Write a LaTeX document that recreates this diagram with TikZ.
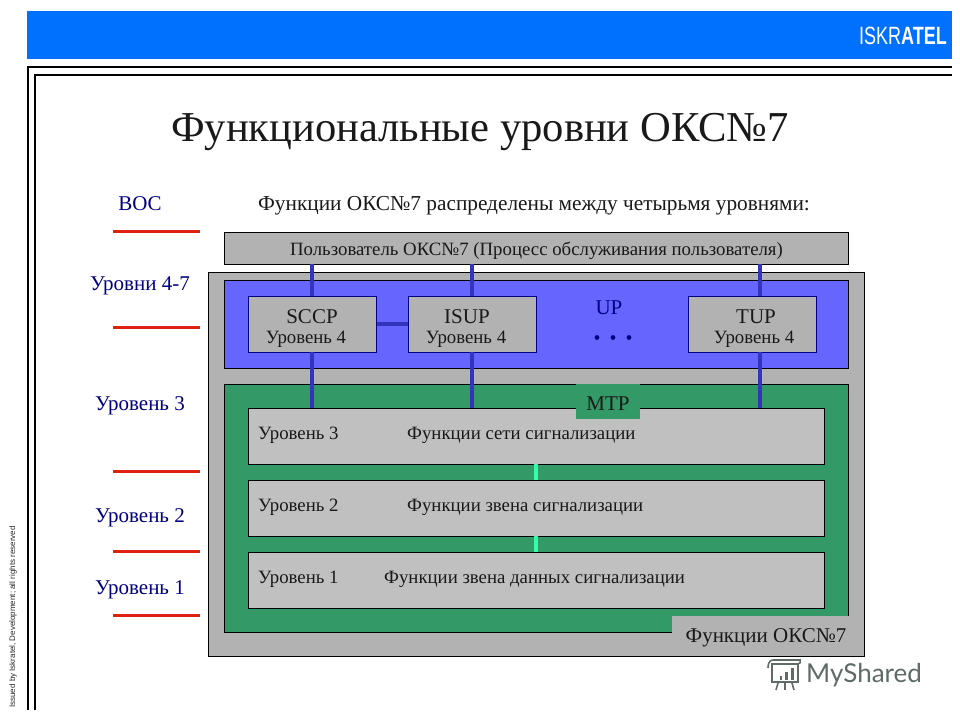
\documentclass[tikz,border=0pt]{standalone}
\usepackage{fontspec}
\setmainfont{Liberation Serif}
\newfontfamily\arialf{Liberation Sans}
\newfontfamily\latof{Lato}
\definecolor{barblue}{HTML}{0070FF}
\definecolor{panelgray}{HTML}{B2B2B2}
\definecolor{upblue}{HTML}{6666FF}
\definecolor{mtpgreen}{HTML}{339966}
\definecolor{layergray}{HTML}{C0C0C0}
\definecolor{linkblue}{HTML}{3333BB}
\definecolor{linkgreen}{HTML}{33FFAA}
\definecolor{redline}{HTML}{DD2211}
\definecolor{labelblue}{HTML}{000080}
\definecolor{wm}{HTML}{5F6B68}
\tikzset{
  x=1pt,y=-1pt,
  fs/.style={font=\fontsize{#1}{#1}\selectfont},
  box/.style={draw=black,line width=1pt,inner sep=0,outer sep=0},
  userbox/.style={box,fill=panelgray,minimum width=624.5pt,minimum height=32pt,anchor=north west},
  protobox/.style={box,draw=labelblue,fill=panelgray,minimum width=128.5pt,minimum height=56pt,anchor=north west},
  layerbox/.style={box,fill=layergray,minimum width=576.5pt,minimum height=56pt,anchor=north west},
  link/.style={draw=linkblue,line width=3.5pt},
  glink/.style={draw=linkgreen,line width=3.5pt},
  rule/.style={draw=redline,line width=3pt},
  lvl/.style={fs=21,text=labelblue,inner sep=0},
  txt/.style={fs=18.8,inner sep=0,text=black!90},
  proto/.style={fs=21,inner sep=0,text=black!90},
  frame/.style={draw=black,line width=2pt},
}
\begin{document}
\begin{tikzpicture}
\useasboundingbox (0,0) rectangle (960,720);
\fill[white] (0,0) rectangle (960,720);
% header
\fill[barblue] (27,11) rectangle (952,59);
\node[fs=25,text=white,inner sep=0,anchor=east] (logo) at (947,35.5)
  {\arialf\scalebox{0.72}[1.0]{ISKR\textbf{ATEL}}};
\draw[frame] (952,67) -- (28,67) -- (28,710);
\draw[frame] (952,75) -- (35,75) -- (35,710);
\node[fs=8,rotate=90,inner sep=0,text=black!85] (issued) at (13,617)
  {\arialf Issued by Iskratel, Development; all rights reserved};
% title
\node[fs=42.6,inner sep=0,text=black!90] (title) at (480,132) {Функциональные уровни ОКС№7};
\node[lvl] (boc) at (140,204) {ВОС};
\node[fs=21.3,inner sep=0,text=black!90] (sub) at (534,205.5) {Функции ОКС№7 распределены между четырьмя уровнями:};
% panels
\node[box,fill=panelgray,minimum width=656.5pt,minimum height=384pt,anchor=north west] (outer) at (208,272) {};
\node[box,fill=upblue,minimum width=624.5pt,minimum height=88pt,anchor=north west] (up) at (224,280) {};
\node[box,fill=mtpgreen,minimum width=624.5pt,minimum height=248pt,anchor=north west] (mtp) at (224,384) {};
\node[userbox] (user) at (224,232) {};
\node[txt] at (536.5,251) {Пользователь ОКС№7 (Процесс обслуживания пользователя)};
% boxes
\node[protobox] (sccp) at (248,296) {};
\node[protobox] (isup) at (408,296) {};
\node[protobox] (tup) at (688,296) {};
\node[layerbox] (l3) at (248,408) {};
\node[layerbox] (l2) at (248,480) {};
\node[layerbox] (l1) at (248,552) {};
% connectors
\path[link] (user.south -| 312,0) -- (sccp.north -| 312,0);
\path[link] (user.south -| 472,0) -- (isup.north -| 472,0);
\path[link] (user.south -| 760,0) -- (tup.north -| 760,0);
\path[link] (sccp.south -| 312,0) -- (l3.north -| 312,0);
\path[link] (isup.south -| 472,0) -- (l3.north -| 472,0);
\path[link] (tup.south -| 760,0) -- (l3.north -| 760,0);
\path[link] (sccp.east) -- (isup.west);
\path[glink] (l3.south -| 536,0) -- (l2.north -| 536,0);
\path[glink] (l2.south -| 536,0) -- (l1.north -| 536,0);
% box texts
\node[proto] at (312,317) {SCCP};
\node[txt] at (306,339.5) {Уровень 4};
\node[proto] at (467,317) {ISUP};
\node[txt] at (466,339.5) {Уровень 4};
\node[proto] at (756,317) {TUP};
\node[txt] at (754,339.5) {Уровень 4};
\node[fs=21,text=labelblue,inner sep=0] (uplab) at (609,308) {UP};
\foreach \xx in {597,613,629} \fill[labelblue] (\xx,337.5) circle (2.4);
% MTP tag
\node[fill=mtpgreen,minimum width=64pt,minimum height=35pt,inner sep=0,anchor=north west] (mtptag) at (576,384) {};
\node[fs=21,inner sep=0,text=black!90] at (608,404) {MTP};
% layer texts
\node[txt,anchor=west] at (258,435) {Уровень 3};
\node[txt,anchor=west] at (407,435) {Функции сети сигнализации};
\node[txt,anchor=west] at (258,507) {Уровень 2};
\node[txt,anchor=west] at (407,507) {Функции звена сигнализации};
\node[txt,anchor=west] at (258,579) {Уровень 1};
\node[txt,anchor=west] at (384,579) {Функции звена данных сигнализации};
% Functions tag
\fill[panelgray] (672,616) rectangle (864,655.5);
\node[fs=21,inner sep=0,text=black!90] (func) at (766,638) {Функции ОКС№7};
% left
\node[lvl,anchor=east] at (190,286) {Уровни 4-7};
\node[lvl,anchor=east] at (185,406) {Уровень 3};
\node[lvl,anchor=east] at (185,518) {Уровень 2};
\node[lvl,anchor=east] at (185,590) {Уровень 1};
\foreach \yy in {231,327,471,551,615} \draw[rule] (112.5,\yy) -- (200,\yy);
% watermark
\node[fs=26,text=wm,inner sep=0,anchor=west] (ms) at (806,675) {\latof MyShared};
\begin{scope}[wm,line width=1.6pt]
\draw (772,664) -- (772,682) -- (798,682) -- (798,664) -- cycle;
\draw (768,668) .. controls (768,660) and (772,660) .. (774,660) -- (800,660) .. controls (801,662) and (800,664) .. (798,664);
\fill (780,676) rectangle (782,680);
\fill (785,672) rectangle (788,680);
\fill (791,668) rectangle (794,680);
\draw (778,683) -- (776,690);
\draw (785,683) -- (785,690);
\draw (792,683) -- (794,690);
\end{scope}
\end{tikzpicture}
\end{document}
